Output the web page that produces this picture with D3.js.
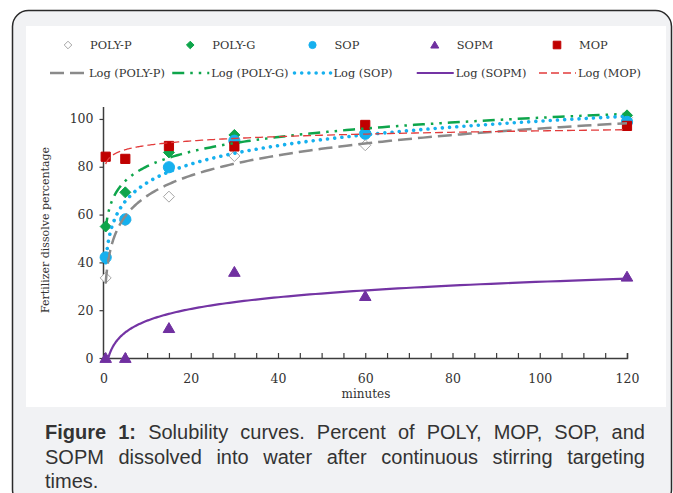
<!doctype html>
<html lang="en">
<head>
<meta charset="utf-8">
<title>Solubility curves</title>
<style>
  body { margin: 0; background: #fff; }
  svg { display: block; }
  .serif { font-family: "DejaVu Serif", "Liberation Serif", serif; fill: #333; }
  .cap { font-family: "Liberation Sans", Arial, sans-serif; font-size: 20px; fill: #333; }
</style>
</head>
<body>
<div id="chart"></div>
<script src="https://cdn.jsdelivr.net/npm/d3@7"></script>
<script>
// values (minutes / percent dissolved)
var minutes = [0.5, 5, 15, 30, 60, 120];
var polyP = [33.5, 57.5, 67.5, 84.5, 89, 100.5];
var polyG = [55, 69.3, 86, 93.3, 94.5, 101.5];
var sop   = [42.1, 58, 79.8, 90.9, 93.8, 98.8];
var sopm  = [0, 0, 12.5, 36, 25.9, 34];
var mop   = [84.2, 83.3, 88.7, 88.5, 97.5, 97.1];
var seriesNames = ["POLY-P", "POLY-G", "SOP", "SOPM", "MOP"];
var yTicks = [0, 20, 40, 60, 80, 100];
var xTicks = [0, 20, 40, 60, 80, 100, 120];
var captionLines = [
  ["Figure 1:", " Solubility curves. Percent of POLY, MOP, SOP, and"],
  ["", "SOPM dissolved into water after continuous stirring targeting"],
  ["", "times."]
];

(function(){
  var width = 673, height = 493;

  var svg = d3.select("#chart").append("svg")
      .attr("width", width)
      .attr("height", height);

  // grey panel with rounded border, white chart box inside
  svg.append("rect")
      .attr("x", 12.5).attr("y", 10.5)
      .attr("width", 659).attr("height", 495)
      .attr("rx", 16)
      .attr("fill", "#f1f2f4")
      .attr("stroke", "#2a2a2a")
      .attr("stroke-width", 1.5);

  svg.append("rect")
      .attr("x", 26).attr("y", 26)
      .attr("width", 640).attr("height", 381)
      .attr("fill", "#fff");

  var x = d3.scaleLinear().domain([0, 120]).range([103.5, 627]);
  var y = d3.scaleLinear().domain([0, 105]).range([358, 107]);

  // series styles
  var styles = [
    {data: polyP, shape: "diamond", fill: "#fff", stroke: "#a6a6a6", line: "#8a8a8a", lw: 2.5, dash: "14,6", cap: "butt"},
    {data: polyG, shape: "diamond", fill: "#0ea54b", stroke: "#0ea54b", line: "#0ea54b", lw: 2.5, dash: "12,6,2.5,6,2.5,6", cap: "butt"},
    {data: sop,   shape: "circle",  fill: "#16b0ee", stroke: "#16b0ee", line: "#16b0ee", lw: 3.6, dash: "0.01,7.2", cap: "round"},
    {data: sopm,  shape: "triangle",fill: "#7030a0", stroke: "#7030a0", line: "#7434a4", lw: 2.2, dash: null, cap: "butt"},
    {data: mop,   shape: "square",  fill: "#c00000", stroke: "#c00000", line: "#e23b3b", lw: 1.3, dash: "8,4", cap: "butt"}
  ];

  function shapePath(shape, s) {
    if (shape === "diamond") return "M0," + (-s) + "L" + s + ",0L0," + s + "L" + (-s) + ",0Z";
    if (shape === "square") return "M" + (-s) + "," + (-s) + "h" + 2*s + "v" + 2*s + "h" + (-2*s) + "Z";
    if (shape === "triangle") return "M0," + (-s) + "L" + (s*1.05) + "," + (s*0.8) + "L" + (-s*1.05) + "," + (s*0.8) + "Z";
    return d3.arc()({innerRadius: 0, outerRadius: s, startAngle: 0, endAngle: 2 * Math.PI});
  }
  var markerSize = {diamond: 5.5, square: 4.6, triangle: 5.5, circle: 5.6};

  // axes
  var axisColor = "#3c3c3c";
  var gy = svg.append("g")
      .attr("transform", "translate(" + x(0) + ",0)")
      .call(d3.axisLeft(y).tickValues(yTicks).tickSize(4).tickPadding(6));
  var gx = svg.append("g")
      .attr("transform", "translate(0," + y(0) + ")")
      .call(d3.axisBottom(x).tickValues(d3.range(0, 121, 5)).tickSize(-5)
        .tickFormat(function(d){ return xTicks.indexOf(d) >= 0 ? d : ""; }).tickPadding(16));
  [gx, gy].forEach(function(g){
    g.select(".domain").attr("stroke", axisColor).attr("stroke-width", 1.5);
    g.selectAll(".tick line").attr("stroke", axisColor).attr("stroke-width", 1.2);
    g.selectAll(".tick text")
        .attr("class", "serif")
        .style("font-size", "12.5px")
        .attr("fill", "#3a3a3a");
  });
  gy.select(".domain").attr("d", "M0," + y(105) + "V" + y(0));

  svg.append("text")
      .attr("class", "serif")
      .attr("transform", "translate(49,230) rotate(-90)")
      .attr("text-anchor", "middle")
      .style("font-size", "11px")
      .text("Fertilizer dissolve percentage");

  svg.append("text")
      .attr("class", "serif")
      .attr("x", 366).attr("y", 398)
      .attr("text-anchor", "middle")
      .style("font-size", "12px")
      .attr("fill", "#3a3a3a")
      .text("minutes");

  // plot clip
  svg.append("clipPath").attr("id", "plot")
    .append("rect").attr("x", x(0)).attr("y", y(105))
    .attr("width", x(120) - x(0) + 6).attr("height", y(0) - y(105));

  // markers
  styles.forEach(function(st){
    svg.append("g").selectAll("path")
      .data(minutes.map(function(m, i){ return [m, st.data[i]]; }))
      .enter().append("path")
      .attr("transform", function(d){ return "translate(" + x(d[0]) + "," + y(d[1]) + ")"; })
      .attr("d", shapePath(st.shape, markerSize[st.shape]))
      .attr("fill", st.fill)
      .attr("stroke", st.stroke)
      .attr("stroke-width", 1);
  });

  // logarithmic trendlines (least squares on ln x)
  function logFit(xs, ys) {
    var lx = xs.map(Math.log);
    var mx = d3.mean(lx), my = d3.mean(ys);
    var sxy = d3.sum(lx, function(v, i){ return (v - mx) * (ys[i] - my); });
    var sxx = d3.sum(lx, function(v){ return (v - mx) * (v - mx); });
    var a = sxy / sxx;
    return {a: a, b: my - a * mx};
  }
  var line = d3.line().x(function(d){ return x(d[0]); }).y(function(d){ return y(d[1]); });
  var xs = d3.range(0, 201).map(function(i){
    return Math.exp(Math.log(minutes[0]) + (Math.log(120) - Math.log(minutes[0])) * i / 200);
  });
  var trend = svg.append("g").attr("clip-path", "url(#plot)");
  styles.forEach(function(st){
    var f = logFit(minutes, st.data);
    trend.append("path")
      .attr("d", line(xs.map(function(t){ return [t, f.a * Math.log(t) + f.b]; })))
      .attr("fill", "none")
      .attr("stroke", st.line)
      .attr("stroke-width", st.lw)
      .attr("stroke-dasharray", st.dash)
      .attr("stroke-linecap", st.cap);
  });

  // legend
  var colX = d3.scaleLinear().domain([0, 4]).range([90, 579]);
  var leg = svg.append("g");
  seriesNames.forEach(function(name, i){
    var st = styles[i];
    leg.append("path")
      .attr("transform", "translate(" + (colX(i) - 22) + ",45)")
      .attr("d", shapePath(st.shape, st.shape === "circle" ? 3.6 : 3.8))
      .attr("fill", st.fill).attr("stroke", st.stroke).attr("stroke-width", 1);
    leg.append("text").attr("class", "serif")
      .attr("x", colX(i)).attr("y", 49)
      .style("font-size", "11.4px")
      .text(name);
    leg.append("line")
      .attr("x1", colX(i) - 40).attr("x2", colX(i) - 3)
      .attr("y1", 73).attr("y2", 73)
      .attr("stroke", st.line).attr("stroke-width", st.lw)
      .attr("stroke-dasharray", st.dash).attr("stroke-linecap", st.cap);
    leg.append("text").attr("class", "serif")
      .attr("x", colX(i) - 1).attr("y", 77)
      .style("font-size", "11.4px")
      .text("Log (" + name + ")");
  });

  // caption, justified lines
  var capLeft = 45, capRight = 645;
  captionLines.forEach(function(parts, i){
    var t = svg.append("text").attr("class", "cap")
      .attr("x", capLeft).attr("y", 439 + i * 24.5);
    if (parts[0]) t.append("tspan").style("font-weight", "bold").text(parts[0]);
    t.append("tspan").text(parts[1]);
    if (i < captionLines.length - 1) {
      var w = t.node().getComputedTextLength();
      var spaces = (parts[0] + parts[1]).split(" ").length - 1;
      t.attr("word-spacing", (capRight - capLeft - w) / spaces);
    }
  });
})();
</script>
</body>
</html>
